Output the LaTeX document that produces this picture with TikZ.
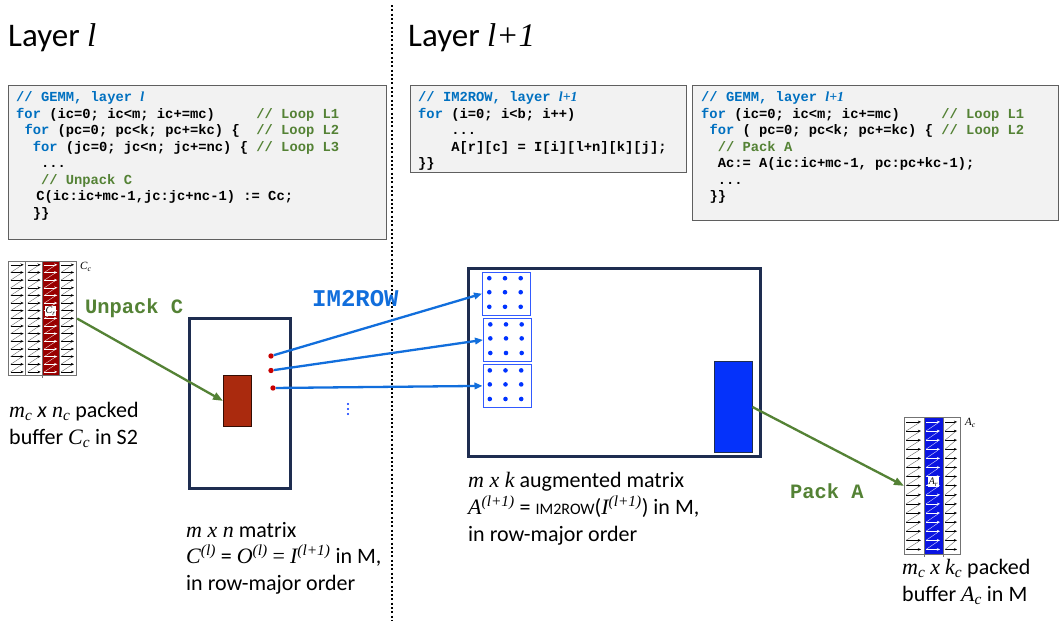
\documentclass[tikz,border=0pt]{standalone}
\usepackage{fontspec}
\setmainfont{Carlito}
\newfontfamily\codefont{Liberation Mono}[WordSpace={1,0,0}]
\newfontfamily\tmsfont{Liberation Serif}
\usetikzlibrary{arrows.meta}
\definecolor{cblue}{RGB}{0,112,192}
\definecolor{cgreen}{RGB}{84,130,53}
\definecolor{iblue}{RGB}{17,110,220}
\definecolor{navy}{RGB}{30,45,80}
\definecolor{mred}{RGB}{170,42,14}
\definecolor{mblue}{RGB}{5,50,250}
\definecolor{dotred}{RGB}{200,0,0}
\definecolor{dotblue}{RGB}{0,51,255}
\definecolor{sbblue}{RGB}{50,90,255}
\definecolor{bufred}{RGB}{153,0,0}
\definecolor{bufblue}{RGB}{10,20,225}
\definecolor{codebg}{RGB}{242,242,242}
\definecolor{codeframe}{RGB}{95,95,95}
\newcommand\mvar[1]{{\tmsfont\itshape #1}}
\newcommand\kwd[1]{\textcolor{cblue}{#1}}
\newcommand\cmnt[1]{\textcolor{cgreen}{#1}}
\frenchspacing
\begin{document}
\begin{tikzpicture}[x=1pt,y=-1pt,
  title/.style={anchor=base west, inner sep=0pt, font=\fontsize{33}{36}\selectfont},
  codebox/.style={draw=codeframe, fill=codebg, line width=1.2pt, inner sep=0pt, anchor=north west},
  codeln/.style={anchor=base west, inner sep=0pt, font=\codefont\bfseries\fontsize{13.8}{16}\selectfont},
  lbl/.style={anchor=base west, inner sep=0pt, font=\fontsize{22}{26}\selectfont},
  oplbl/.style={anchor=base west, inner sep=0pt, font=\codefont\bfseries\fontsize{20.4}{24}\selectfont},
  frame/.style={draw=navy, line width=3pt, inner sep=0pt, anchor=north west},
  smallbox/.style={draw=sbblue, line width=1.4pt, inner sep=0pt, anchor=north west, minimum width=48pt, minimum height=43pt},
  reddot/.style={circle, fill=dotred, inner sep=0pt, minimum size=5.4pt},
  bluedot/.style={circle, fill=dotblue, inner sep=0pt, minimum size=4.8pt},
  garrow/.style={draw=cgreen, line width=2.3pt, -{Triangle[length=10pt,width=7.5pt]}},
  barrow/.style={draw=iblue, line width=2.3pt, -{Triangle[length=8pt,width=6.5pt]}},
  bufarrow/.style={line width=0.45pt, -{Stealth[length=3.2pt,width=2.6pt]}},
  bufdiag/.style={line width=0.4pt},
  bufgrid/.style={draw=black!55, line width=0.6pt},
  bufnode/.style={inner sep=0pt, anchor=north west},
  smlbl/.style={inner sep=0pt, font=\tmsfont\itshape\fontsize{11}{12}\selectfont},
  rlbl/.style={fill=white, inner sep=0.9pt, font=\tmsfont\itshape\fontsize{10}{11}\selectfont}
]
\useasboundingbox (0,0) rectangle (1061,621);
\fill[white] (0,0) rectangle (1061,621);

% titles and separator
\node[title] (t1) at (8,46) {Layer \mvar{l}};
\node[title] (t2) at (408,46) {Layer \mvar{l+1}};
\draw[line width=2pt, dash pattern=on 2pt off 2.3pt] (392,5) -- (392,621);

% code box 1
\node[codebox, minimum width=378pt, minimum height=154pt] (box1) at (8,85) {};
\node[codeln] (b1l0) at (16,101.5) {\kwd{// GEMM, layer \mvar{l}}};
\node[codeln] (b1l1) at (16,118) {\kwd{for} (ic=0; ic<m; ic+=mc)~~~~~\cmnt{// Loop L1}};
\node[codeln] (b1l2) at (24.3,134.5) {\kwd{for} (pc=0; pc<k; pc+=kc) \{~~\cmnt{// Loop L2}};
\node[codeln] (b1l3) at (32.6,151) {\kwd{for} (jc=0; jc<n; jc+=nc) \{~\cmnt{// Loop L3}};
\node[codeln] (b1l4) at (40.8,167.5) {...};
\node[codeln] (b1l5) at (40.8,184) {\cmnt{// Unpack C}};
\node[codeln] (b1l6) at (36.2,200.5) {C(ic:ic+mc-1,jc:jc+nc-1) := Cc;};
\node[codeln] (b1l7) at (32.6,217) {\}\}};

% code box 2
\node[codebox, minimum width=276pt, minimum height=87pt] (box2) at (410,85) {};
\node[codeln] (b2l0) at (418,101.5) {\kwd{// IM2ROW, layer \mvar{l+1}}};
\node[codeln] (b2l1) at (418,118) {\kwd{for} (i=0; i<b; i++)};
\node[codeln] (b2l2) at (451.1,134.5) {...};
\node[codeln] (b2l3) at (451.1,151) {A[r][c] = I[i][l+n][k][j];};
\node[codeln] (b2l4) at (418,167.5) {\}\}};

% code box 3
\node[codebox, minimum width=366pt, minimum height=135pt] (box3) at (692,85) {};
\node[codeln] (b3l0) at (701,101.5) {\kwd{// GEMM, layer \mvar{l+1}}};
\node[codeln] (b3l1) at (701,118) {\kwd{for} (ic=0; ic<m; ic+=mc)~~~~~\cmnt{// Loop L1}};
\node[codeln] (b3l2) at (709.3,134.5) {\kwd{for} ( pc=0; pc<k; pc+=kc) \{~\cmnt{// Loop L2}};
\node[codeln] (b3l3) at (717.6,151) {\cmnt{// Pack A}};
\node[codeln] (b3l4) at (717.6,167.5) {Ac:= A(ic:ic+mc-1, pc:pc+kc-1);};
\node[codeln] (b3l5) at (717.6,184) {...};
\node[codeln] (b3l6) at (709.3,200.5) {\}\}};

% ---- left packed buffer C_c
\node[bufnode, minimum width=68pt, minimum height=114.7pt] (cbuf) at (8.7,261) {};
\fill[bufred] (42.3,261) rectangle (59,375.7);
\foreach \xa/\ac/\dc in {8.7/black/black!60, 25.7/black/black!60, 42.3/white/white!85!bufred, 59/black/black!60} {
  \foreach \r in {0,...,14} {
    \draw[bufarrow, \ac] ({\xa+2},{261+7.65*\r+3.8}) -- ++(13,0);
  }
  \foreach \r in {0,...,13} {
    \draw[bufdiag, \dc] ({\xa+2},{261+7.65*\r+7.65+3.8}) -- ({\xa+12.5},{261+7.65*\r+4.6});
  }
}
\draw[bufgrid] (8.7,261) rectangle (76.7,375.7);
\foreach \xx in {25.7,42.3,59} { \draw[bufgrid] (\xx,261) -- (\xx,375.7); }
\draw[bufgrid] (42.3,375.7) -- (42.3,378);
\node[smlbl, anchor=west] (cclbl) at (80,267) {C\textsubscript{c}};
\node[rlbl] (crlbl) at (50.6,311) {C\textsubscript{r}};

% ---- C matrix
\node[frame, minimum width=101pt, minimum height=170pt] (cmat) at (188,317) {};
\node[draw=black!70!mred, line width=0.8pt, fill=mred, inner sep=0pt, anchor=north west, minimum width=28pt, minimum height=51pt] (cred) at (223,375) {};
\node[reddot] (d1) at (271,356) {};
\node[reddot] (d2) at (271,370.5) {};
\node[reddot] (d3) at (273,388) {};
\node[inner sep=0pt] (vdots) at (348,409) {};
\foreach \yy in {-5,0,5} { \fill[dotblue] (348,{409+\yy}) circle[radius=1.1pt]; }

% ---- A matrix
\node[frame, minimum width=292pt, minimum height=188pt] (amat) at (467,267) {};
\node[smallbox] (sb1) at (482,271.5) {};
\node[smallbox] (sb2) at (483,317.7) {};
\node[smallbox] (sb3) at (482.5,363.7) {};
\foreach \bx/\by in {482/271.5, 483/317.7, 482.5/363.7} {
  \foreach \dx in {7.3,23,38.7} {
    \foreach \dy in {6.7,20.7,35.3} {
      \fill[dotblue] ({\bx+\dx},{\by+\dy}) circle[radius=2.3pt];
    }
  }
}
\node[draw=navy, line width=0.8pt, fill=mblue, inner sep=0pt, anchor=north west, minimum width=37.5pt, minimum height=91pt] (brect) at (714,361) {};

% ---- right packed buffer A_c
\node[bufnode, minimum width=56pt, minimum height=136.7pt] (abuf) at (904,417.3) {};
\fill[bufblue] (924,417.3) rectangle (943,554);
\foreach \xa/\xw/\ac/\dc in {904/20/black/black!60, 924/19/white/white!85!bufblue, 943/17/black/black!60} {
  \foreach \r in {0,...,14} {
    \draw[bufarrow, \ac] ({\xa+2},{417.3+9.11*\r+4.6}) -- ++({\xw-5},0);
  }
  \foreach \r in {0,...,13} {
    \draw[bufdiag, \dc] ({\xa+2},{417.3+9.11*\r+9.11+4.6}) -- ({\xa+\xw-5},{417.3+9.11*\r+5.6});
  }
}
\draw[bufgrid] (904,417.3) rectangle (960,554);
\foreach \xx in {924,943} { \draw[bufgrid] (\xx,417.3) -- (\xx,557); }
\node[smlbl, anchor=west] (aclbl) at (965,423) {A\textsubscript{c}};
\node[rlbl] (arlbl) at (933.5,482) {A\textsubscript{r}};

% ---- connectors
\draw[garrow] (cbuf.east) -- (cred.west);
\draw[barrow] (d1) -- (sb1.west);
\draw[barrow] (d2) -- (sb2.west);
\draw[barrow] (d3) -- (sb3.west);
\draw[garrow] (brect.east) -- (abuf.west);

% ---- operation labels
\node[oplbl, text=cgreen] (unpk) at (85,313) {Unpack C};
\node[oplbl, text=iblue, font=\codefont\bfseries\fontsize{24}{28}\selectfont] (im2) at (312,306) {IM2ROW};
\node[oplbl, text=cgreen] (pk) at (790,498) {Pack A};

% ---- text labels
\node[lbl] (lc1) at (9,417) {\mvar{m\textsubscript{c}} \textit{x} \mvar{n\textsubscript{c}} packed};
\node[lbl] (lc2) at (9,444) {buffer \mvar{C\textsubscript{c}} in S2};

\node[lbl] (lm1) at (186,537) {\mvar{m x n} matrix};
\node[lbl] (lm2) at (186,563.5) {\mvar{C\textsuperscript{(l)}} = \mvar{O\textsuperscript{(l)}} {\tmsfont =} \mvar{I\textsuperscript{(l+1)}} in M,};
\node[lbl] (lm3) at (186,590) {in row-major order};

\node[lbl] (la1) at (468,487) {\mvar{m x k} augmented matrix};
\node[lbl] (la2) at (468,514) {\mvar{A\textsuperscript{(l+1)}} = {\fontsize{16}{18}\selectfont IM2ROW}(\mvar{I\textsuperscript{(l+1)}}) in M,};
\node[lbl] (la3) at (468,541) {in row-major order};

\node[lbl] (lb1) at (902,574) {\mvar{m\textsubscript{c}} \mvar{x} \mvar{k\textsubscript{c}} packed};
\node[lbl] (lb2) at (902,601) {buffer \mvar{A\textsubscript{c}} in M};
\end{tikzpicture}
\end{document}
